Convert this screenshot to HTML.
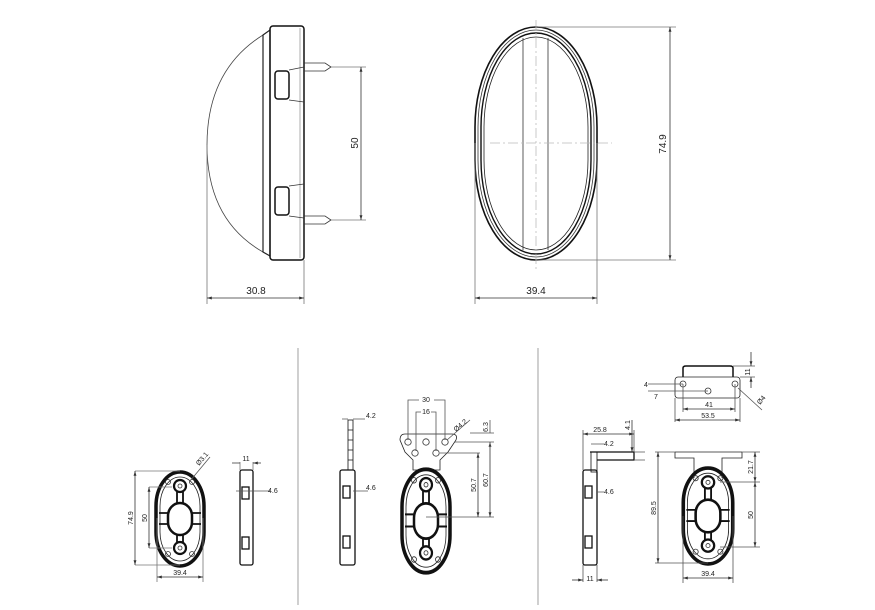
<!DOCTYPE html>
<html><head><meta charset="utf-8"><style>
html,body{margin:0;padding:0;background:#fff;width:875px;height:610px;overflow:hidden}
svg{display:block}
text{font-family:"Liberation Sans",sans-serif;font-size:10px;fill:#222}
.s{font-size:7px}
</style></head><body>
<svg width="875" height="610" viewBox="0 0 875 610" xmlns="http://www.w3.org/2000/svg">
<defs>
<marker id="a" viewBox="0 0 10 10" refX="10" refY="5" markerWidth="6" markerHeight="6" orient="auto-start-reverse"><path d="M0,2 L10,5 L0,8" fill="#333"/></marker>
<g id="oval">
<rect x="-24" y="-47" width="48" height="94" rx="24" ry="34" stroke="#111" stroke-width="3.5"/>
<rect x="-20" y="-42" width="40" height="84" rx="20" ry="29" stroke="#222"/>
<rect x="-12" y="-16" width="24" height="32" rx="12" ry="13" stroke="#111" stroke-width="2.5"/>
<path d="M-21,-6 L-12,-6 M-21,5 L-12,5 M12,-6 L21,-6 M12,5 L21,5 M-3,-27 L-3,-16 M3,-27 L3,-16 M-3,16 L3,16 M-3,16 L-3,23 M3,16 L3,23" stroke="#111" stroke-width="1.8"/>
<circle cx="0" cy="-33" r="6" stroke="#111" stroke-width="2.2"/><circle cx="0" cy="-33" r="2"/>
<circle cx="0" cy="29" r="6" stroke="#111" stroke-width="2.2"/><circle cx="0" cy="29" r="2"/>
<circle cx="-12" cy="-37" r="2.5"/><circle cx="12" cy="-37" r="2.5"/><circle cx="-12" cy="35" r="2.5"/><circle cx="12" cy="35" r="2.5"/>
</g>
</defs>
<g fill="none" stroke="#333" stroke-width="0.8">
<path d="M263,35 Q207,70 207,145 Q207,220 263,252" stroke="#444"/>
<path d="M263,35 L270,30 L270,256 L263,252 Z" stroke="#222" stroke-width="1.2"/>
<rect x="270" y="26" width="34" height="234" rx="3" stroke="#111" stroke-width="1.5"/>
<line x1="300" y1="28" x2="300" y2="258" stroke="#999"/>
<rect x="275" y="71" width="14" height="28" rx="3" stroke="#111" stroke-width="1.5"/>
<rect x="275" y="187" width="14" height="28" rx="3" stroke="#111" stroke-width="1.5"/>
<path d="M289,70 L304,67 M289,100 L304,102 M289,186 L304,184 M289,216 L304,218"/>
<path d="M304,63 L325,63 L331,67 L325,71 L304,71"/>
<path d="M304,216 L325,216 L331,220 L325,224 L304,224"/>
<path d="M331,67 L366,67 M331,220 L366,220" stroke="#777"/>
<line x1="361" y1="67" x2="361" y2="220" marker-start="url(#a)" marker-end="url(#a)"/>
<path d="M207,145 L207,304 M304,260 L304,304" stroke="#777"/>
<line x1="207" y1="298" x2="304" y2="298" marker-start="url(#a)" marker-end="url(#a)"/>

<rect x="475" y="27" width="122" height="233" rx="61" ry="100" stroke="#111" stroke-width="1.6"/>
<rect x="478" y="30" width="116" height="227" rx="58" ry="97" stroke="#333"/>
<rect x="481" y="33" width="110" height="221" rx="55" ry="94" stroke="#111" stroke-width="1.4"/>
<rect x="484" y="37" width="104" height="213" rx="52" ry="90" stroke="#222"/>
<line x1="523" y1="38" x2="523" y2="250"/>
<line x1="548" y1="38" x2="548" y2="250"/>
<line x1="536" y1="20" x2="536" y2="270" stroke="#bbb" stroke-dasharray="10,3,2,3"/>
<line x1="490" y1="143" x2="612" y2="143" stroke="#bbb" stroke-dasharray="10,3,2,3"/>
<path d="M536,27 L676,27 M536,260 L676,260" stroke="#777"/>
<line x1="670" y1="27" x2="670" y2="260" marker-start="url(#a)" marker-end="url(#a)"/>
<path d="M475,143 L475,304 M597,143 L597,304" stroke="#777"/>
<line x1="475" y1="298" x2="597" y2="298" marker-start="url(#a)" marker-end="url(#a)"/>

<line x1="298" y1="348" x2="298" y2="605" stroke="#888"/>
<line x1="538" y1="348" x2="538" y2="605" stroke="#888"/>

<use href="#oval" transform="translate(180,519)"/>
<path d="M135,471 L180,471 M135,565 L180,565 M149,487 L172,487 M149,548 L172,548" stroke="#777"/>
<line x1="135" y1="471" x2="135" y2="565" marker-start="url(#a)" marker-end="url(#a)"/>
<line x1="149" y1="487" x2="149" y2="548" marker-start="url(#a)" marker-end="url(#a)"/>
<path d="M157,518 L157,582 M203,518 L203,582" stroke="#777"/>
<line x1="157" y1="577" x2="203" y2="577" marker-start="url(#a)" marker-end="url(#a)"/>
<line x1="190" y1="481" x2="210" y2="457" stroke="#555"/>
<rect x="240" y="470" width="13" height="95" rx="2" stroke="#111" stroke-width="1.3"/>
<rect x="242" y="487" width="7" height="12" stroke="#111" stroke-width="1.3"/>
<rect x="242" y="537" width="7" height="12" stroke="#111" stroke-width="1.3"/>
<path d="M240,462 L240,470 M253,462 L253,470" stroke="#777"/>
<path d="M232,463 L240,463 M261,463 L253,463" marker-end="url(#a)"/>
<path d="M236,491 L253,491 M270,491 L253,491" stroke="#555"/>

<rect x="348" y="420" width="5" height="50" stroke="#111"/>
<path d="M348,430 L353,430 M348,440 L353,440 M348,450 L353,450 M348,460 L353,460" stroke="#111"/>
<rect x="340" y="470" width="15" height="95" rx="2" stroke="#111" stroke-width="1.3"/>
<rect x="343" y="486" width="7" height="12" stroke="#111" stroke-width="1.3"/>
<rect x="343" y="536" width="7" height="12" stroke="#111" stroke-width="1.3"/>
<path d="M342,419 L348,419 M353,419 L365,419 M353,491 L368,491" stroke="#555"/>
<path d="M400,440 Q400,434 405,434 L452,434 Q458,434 456,440 L448,452 L440,460 L440,470 L413,470 L413,460 L405,452 Z" stroke="#222"/>
<circle cx="408" cy="442" r="3.2"/><circle cx="426" cy="442" r="3.2"/><circle cx="445" cy="442" r="3.2"/>
<circle cx="415" cy="453" r="3.2"/><circle cx="436" cy="453" r="3.2"/>
<use href="#oval" transform="translate(426,521) scale(1,1.1)"/>
<path d="M408,440 L408,400 L419,400 M434,400 L445,400 L445,440 M416,451 L416,412 L421,412 M431,412 L436,412 L436,451" stroke="#555"/>
<path d="M447,440 L470,420 M455,442 L494,442 M440,453 L480,453 M470,433 L494,433 M426,517 L494,517" stroke="#555"/>
<line x1="478" y1="453" x2="478" y2="517" marker-start="url(#a)" marker-end="url(#a)"/>
<line x1="490" y1="442" x2="490" y2="517" marker-start="url(#a)" marker-end="url(#a)"/>
<path d="M490,420 L490,433 M490,448 L490,442" stroke="#555"/>

<path d="M683,377 L683,368 Q683,366 686,366 L730,366 Q733,366 733,368 L733,377" stroke="#111" stroke-width="1.5"/>
<rect x="675" y="377" width="65" height="21" rx="3" stroke="#222"/>
<circle cx="683" cy="384" r="3"/><circle cx="708" cy="391" r="3"/><circle cx="735" cy="384" r="3"/>
<path d="M683,384 L648,384 M708,391 L648,391 M683,384 L683,412 M735,384 L735,412 M675,398 L675,422 M740,398 L740,422 M733,366 L755,366 M740,377 L755,377 M738,388 L762,410" stroke="#555"/>
<line x1="683" y1="409" x2="735" y2="409" marker-start="url(#a)" marker-end="url(#a)"/>
<line x1="675" y1="420" x2="740" y2="420" marker-start="url(#a)" marker-end="url(#a)"/>
<line x1="751" y1="352" x2="751" y2="366" marker-end="url(#a)"/>
<line x1="751" y1="388" x2="751" y2="377" marker-end="url(#a)"/>
<path d="M590,452 L634,452 L634,460 L597,460" stroke="#111" stroke-width="1.3"/>
<rect x="591" y="452" width="6" height="20" stroke="#111"/>
<rect x="583" y="470" width="14" height="95" rx="2" stroke="#111" stroke-width="1.3"/>
<rect x="585" y="486" width="7" height="12" stroke="#111" stroke-width="1.3"/>
<rect x="585" y="536" width="7" height="12" stroke="#111" stroke-width="1.3"/>
<path d="M583,430 L583,470 M634,430 L634,452 M591,444 L604,444 M597,492 L604,492 M583,565 L583,582 M597,565 L597,582 M634,452 L645,452 M634,460 L645,460" stroke="#555"/>
<line x1="583" y1="434" x2="634" y2="434" marker-start="url(#a)" marker-end="url(#a)"/>
<line x1="572" y1="580" x2="583" y2="580" marker-end="url(#a)"/>
<line x1="608" y1="580" x2="597" y2="580" marker-end="url(#a)"/>
<line x1="632" y1="420" x2="632" y2="452" marker-end="url(#a)"/>
<path d="M675,452 L675,458 L694,458 L694,478 M742,452 L742,458 L722,458 L722,478 M675,452 L742,452" stroke="#222"/>
<use href="#oval" transform="translate(708,516) scale(1.03,1.02)"/>
<path d="M655,452 L675,452 M655,563 L708,563 M742,452 L760,452 M720,482 L760,482 M720,547 L760,547 M683,516 L683,583 M733,516 L733,583" stroke="#555"/>
<line x1="658" y1="452" x2="658" y2="563" marker-start="url(#a)" marker-end="url(#a)"/>
<line x1="755" y1="452" x2="755" y2="482" marker-start="url(#a)" marker-end="url(#a)"/>
<line x1="755" y1="482" x2="755" y2="547" marker-start="url(#a)" marker-end="url(#a)"/>
<line x1="683" y1="578" x2="733" y2="578" marker-start="url(#a)" marker-end="url(#a)"/>
</g>

<text x="256" y="294" text-anchor="middle">30.8</text>
<text transform="translate(358,143) rotate(-90)" text-anchor="middle">50</text>
<text x="536" y="294" text-anchor="middle">39.4</text>
<text transform="translate(666,144) rotate(-90)" text-anchor="middle">74.9</text>

<text class="s" transform="translate(133,518) rotate(-90)" text-anchor="middle">74.9</text>
<text class="s" transform="translate(147,518) rotate(-90)" text-anchor="middle">50</text>
<text class="s" x="180" y="575" text-anchor="middle">39.4</text>
<text class="s" transform="translate(199,466) rotate(-50)">Ø3.1</text>
<text class="s" x="246" y="461" text-anchor="middle">11</text>
<text class="s" x="268" y="493">4.6</text>

<text class="s" x="366" y="418">4.2</text>
<text class="s" x="366" y="490">4.6</text>
<text class="s" x="426" y="402" text-anchor="middle">30</text>
<text class="s" x="426" y="414" text-anchor="middle">16</text>
<text class="s" transform="translate(456,432) rotate(-40)">Ø4.2</text>
<text class="s" transform="translate(488,427) rotate(-90)" text-anchor="middle">6.3</text>
<text class="s" transform="translate(476,485) rotate(-90)" text-anchor="middle">50.7</text>
<text class="s" transform="translate(488,480) rotate(-90)" text-anchor="middle">60.7</text>

<text class="s" x="644" y="387">4</text>
<text class="s" x="654" y="399">7</text>
<text class="s" x="709" y="407" text-anchor="middle">41</text>
<text class="s" x="708" y="418" text-anchor="middle">53.5</text>
<text class="s" transform="translate(750,372) rotate(-90)" text-anchor="middle">11</text>
<text class="s" transform="translate(760,405) rotate(-50)">Ø4</text>
<text class="s" x="600" y="432" text-anchor="middle">25.8</text>
<text class="s" x="604" y="446">4.2</text>
<text class="s" transform="translate(630,425) rotate(-90)" text-anchor="middle">4.1</text>
<text class="s" x="604" y="494">4.6</text>
<text class="s" x="590" y="581" text-anchor="middle">11</text>
<text class="s" transform="translate(656,508) rotate(-90)" text-anchor="middle">89.5</text>
<text class="s" transform="translate(753,467) rotate(-90)" text-anchor="middle">21.7</text>
<text class="s" transform="translate(753,515) rotate(-90)" text-anchor="middle">50</text>
<text class="s" x="708" y="576" text-anchor="middle">39.4</text>
</svg>
</body></html>
